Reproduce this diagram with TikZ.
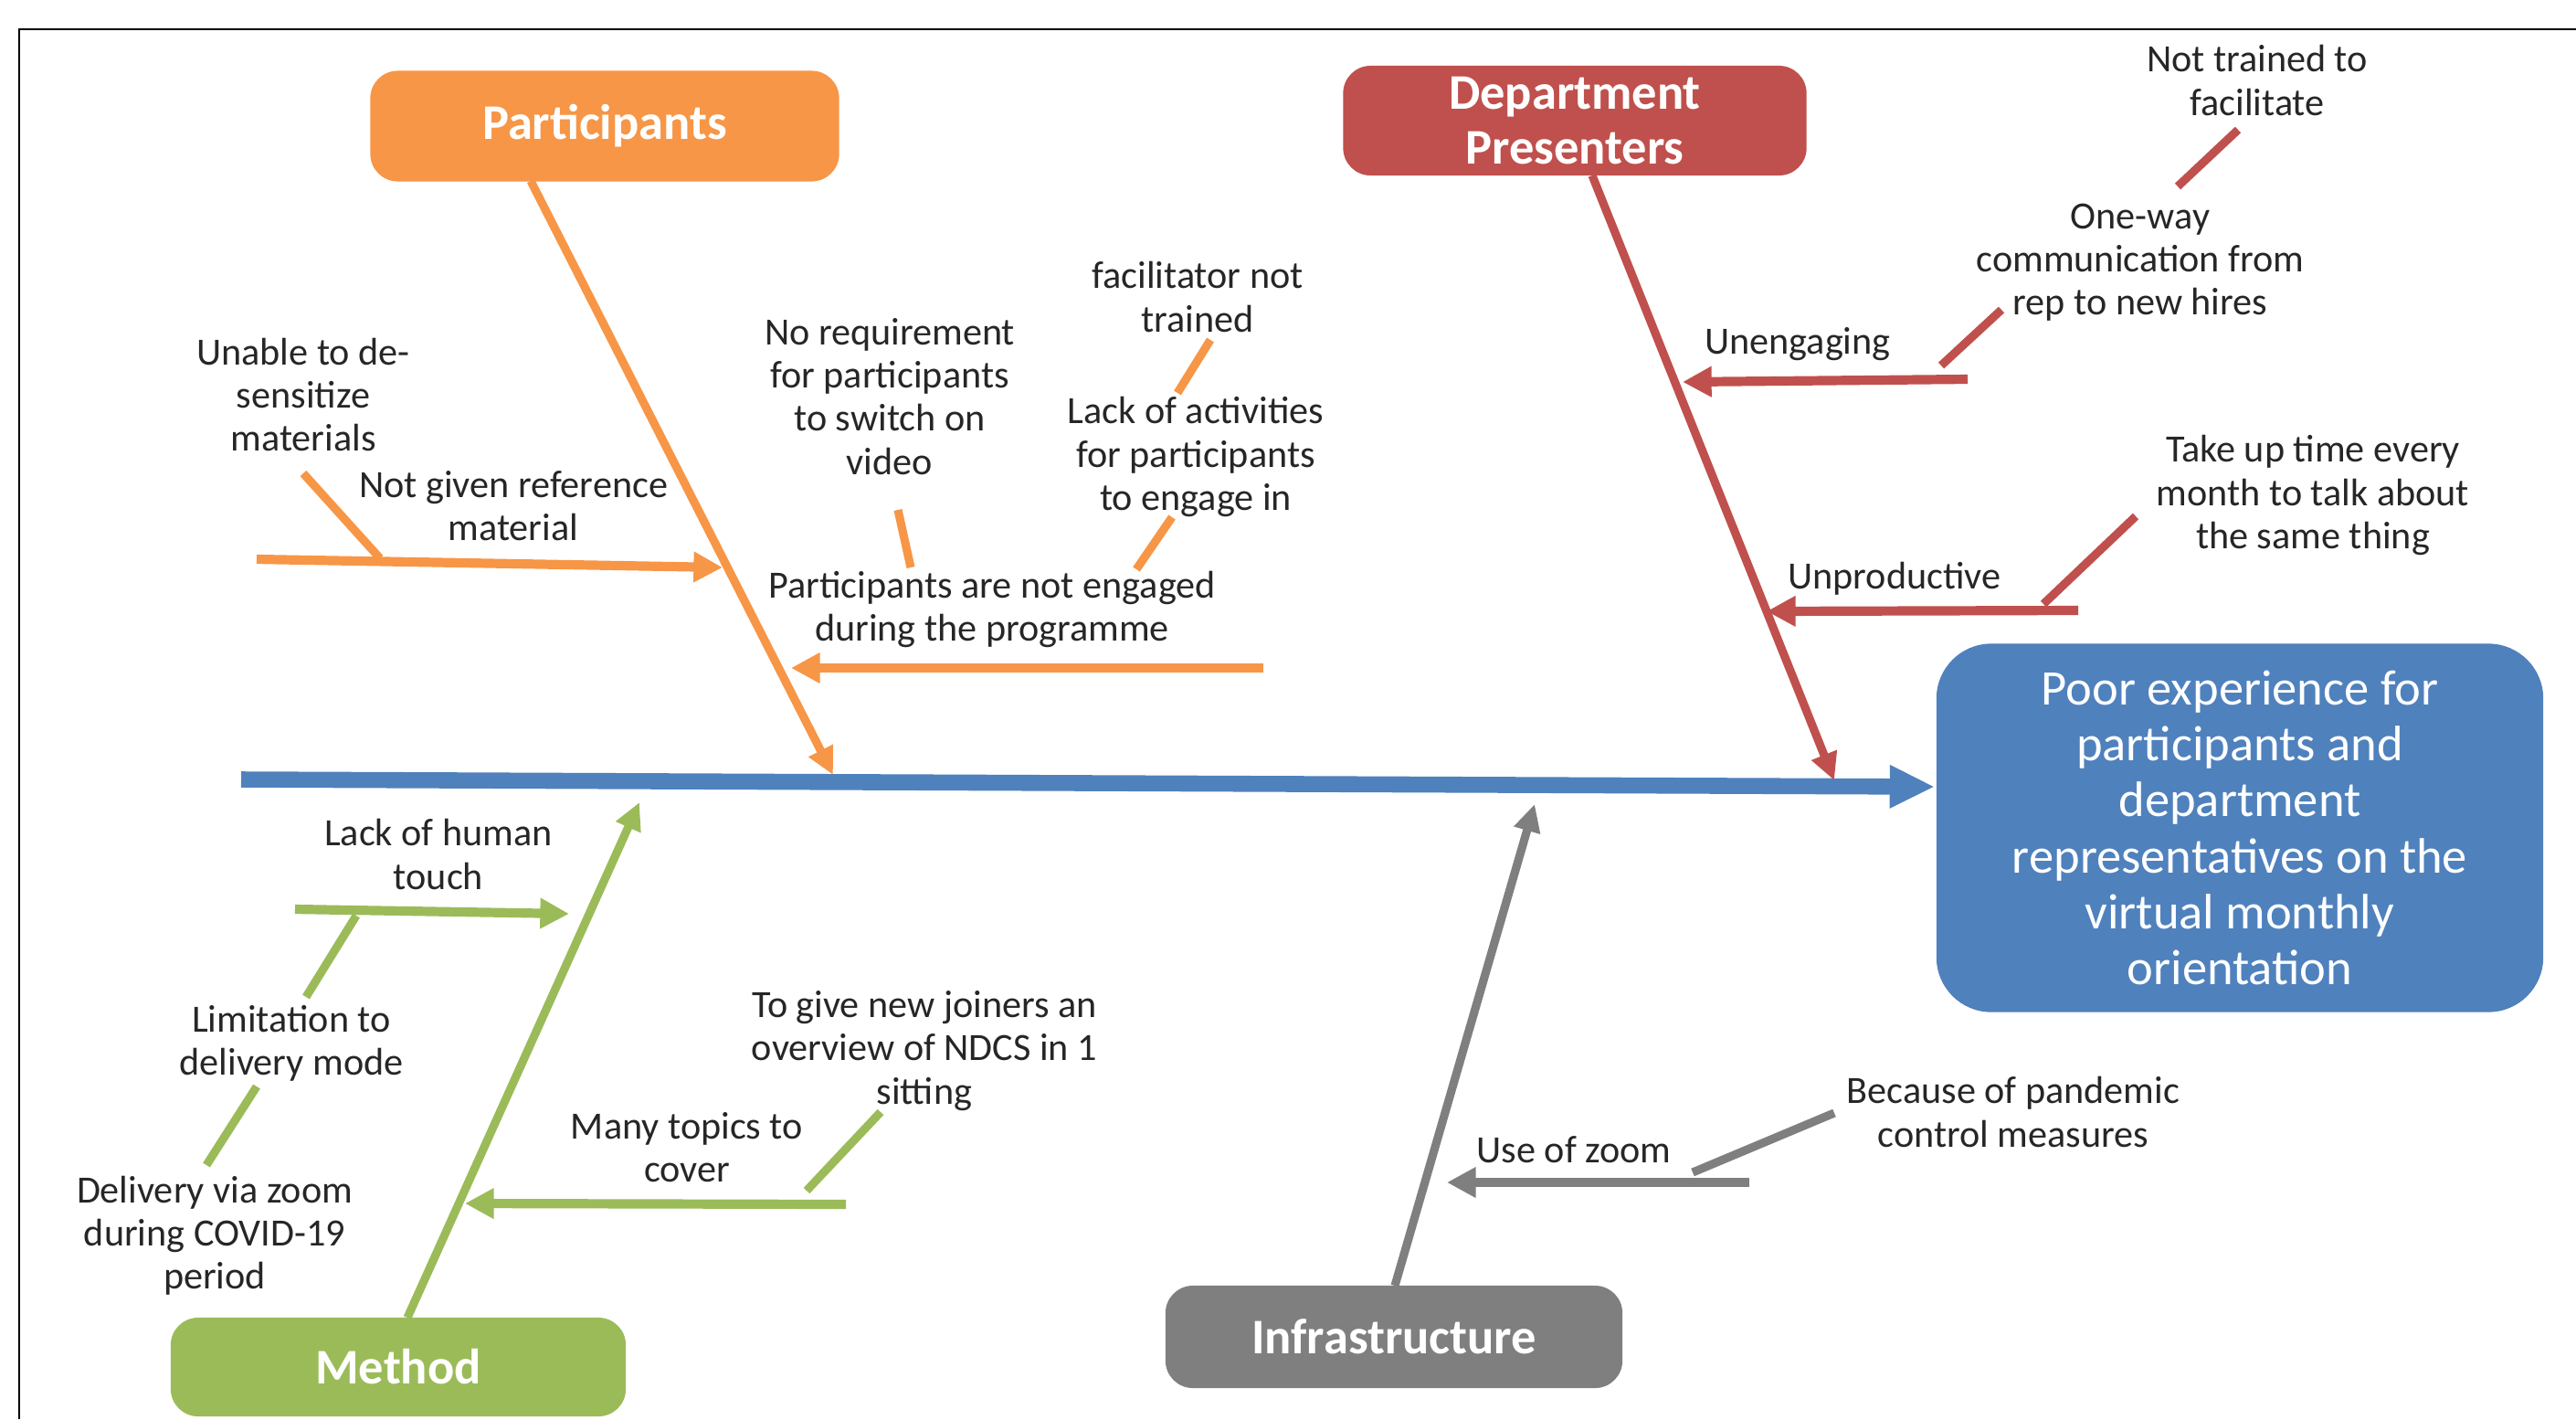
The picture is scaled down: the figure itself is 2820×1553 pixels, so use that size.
\documentclass[tikz,border=0pt]{standalone}
\usepackage{fontspec}
\setmainfont{Carlito}
\usetikzlibrary{arrows.meta}
\definecolor{partorange}{HTML}{F79646}
\definecolor{deptred}{HTML}{C0504D}
\definecolor{methgreen}{HTML}{9BBB59}
\definecolor{infragray}{HTML}{7F7F7F}
\definecolor{effblue}{HTML}{4F81BD}
\begin{document}
\begin{tikzpicture}[
  x=0.01cm, y=-0.01cm,
  cat_box/.style={rectangle, rounded corners=0.3cm, inner sep=0pt, text=white, align=center, font=\fontsize{15.5}{17}\selectfont\bfseries},
  effect_box/.style={rectangle, rounded corners=0.6cm, inner sep=0pt, minimum width=6.64cm, minimum height=4.03cm, fill=effblue, text=white, align=center, font=\fontsize{15.5}{17.4}\selectfont},
  cause_text/.style={inner sep=0pt, align=center, text=black!85, font=\fontsize{12}{13.4}\selectfont},
  spine_line/.style={line width=5pt, effblue, -{Triangle[length=14pt,width=12.5pt]}},
  bone/.style={line width=2.6pt, -{Triangle[length=8.5pt,width=8pt]}},
  sub_bone/.style={line width=2.9pt, -{Triangle[length=9pt,width=9pt]}},
  tick_line/.style={line width=2.6pt},
]
\useasboundingbox (0,0) rectangle (2820,1553);
\draw [line width=0.7pt] (21,1553) -- (21,32) -- (2820,32);

\draw (662,138) node (part) [cat_box, fill=partorange, minimum width=5.13cm, minimum height=1.21cm] {Participants};
\draw (1724,132) node (dept) [cat_box, fill=deptred, minimum width=5.07cm, minimum height=1.2cm] {Department\\Presenters};
\draw (436,1496) node (meth) [cat_box, fill=methgreen, minimum width=4.98cm, minimum height=1.08cm] {Method};
\draw (1526,1463) node (infra) [cat_box, fill=infragray, minimum width=5cm, minimum height=1.12cm] {Infrastructure};
\draw (2452,906) node (effect) [effect_box] {Poor experience for\\participants and\\department\\representatives on the\\virtual monthly\\orientation};

\draw (562,554) node (ref) [cause_text] {Not given reference\\material};
\draw (332,432) node (desens) [cause_text] {Unable to de-\\sensitize\\materials};
\draw (1086,667) node (noteng) [cause_text] {Participants are not engaged\\during the programme};
\draw (974,434) node (video) [cause_text] {No requirement\\for participants\\to switch on\\video};
\draw (1309,500) node (activ) [cause_text] {Lack of activities\\for participants\\to engage in};
\draw (1311,325) node (facil) [cause_text] {facilitator not\\trained};
\draw (1968,377) node (uneng) [cause_text] {Unengaging};
\draw (2343,287) node (oneway) [cause_text] {One-way\\communication from\\rep to new hires};
\draw (2471,88) node (nottr) [cause_text] {Not trained to\\facilitate};
\draw (2074,633) node (unprod) [cause_text] {Unproductive};
\draw (2532,542) node (takeup) [cause_text] {Take up time every\\month to talk about\\the same thing};
\draw (480,935) node (human) [cause_text] {Lack of human\\touch};
\draw (319,1142) node (limit) [cause_text] {Limitation to\\delivery mode};
\draw (235,1352) node (deliv) [cause_text] {Delivery via zoom\\during COVID-19\\period};
\draw (752,1256) node (topics) [cause_text] {Many topics to\\cover};
\draw (1012,1150) node (overview) [cause_text] {To give new joiners an\\overview of NDCS in 1\\sitting};
\draw (1723,1258) node (zoomuse) [cause_text] {Use of zoom};
\draw (2204,1217) node (pandemic) [cause_text] {Because of pandemic\\control measures};

\coordinate (sp_a) at (264,853);
\coordinate (sp_b) at (2118,861);
\coordinate (part_a) at (581,198);
\coordinate (part_b) at (912,848);
\coordinate (dept_a) at (1743,192);
\coordinate (dept_b) at (2008,854);
\coordinate (meth_a) at (446,1442);
\coordinate (meth_b) at (700,878);
\coordinate (infra_a) at (1527,1407);
\coordinate (infra_b) at (1680,880);

\coordinate (ref_a) at (281,612);
\coordinate (ref_b) at (791,621);
\coordinate (desens_a) at (332,518);
\coordinate (desens_b) at (416,611);
\coordinate (noteng_a) at (1383,731);
\coordinate (noteng_b) at (866,731);
\coordinate (video_a) at (983,558);
\coordinate (video_b) at (997,621);
\coordinate (activ_a) at (1283,566);
\coordinate (activ_b) at (1244,623);
\coordinate (facil_a) at (1325,372);
\coordinate (facil_b) at (1289,430);

\coordinate (uneng_a) at (2154,415);
\coordinate (uneng_b) at (1842,418);
\coordinate (oneway_a) at (2191,339);
\coordinate (oneway_b) at (2125,400);
\coordinate (nottr_a) at (2450,142);
\coordinate (nottr_b) at (2384,204);
\coordinate (unprod_a) at (2275,668);
\coordinate (unprod_b) at (1934,669);
\coordinate (takeup_a) at (2338,565);
\coordinate (takeup_b) at (2237,661);

\coordinate (human_a) at (323,995);
\coordinate (human_b) at (623,1000);
\coordinate (limit_a) at (335,1091);
\coordinate (limit_b) at (390,1002);
\coordinate (deliv_a) at (226,1275);
\coordinate (deliv_b) at (281,1189);
\coordinate (topics_a) at (926,1318);
\coordinate (topics_b) at (509,1317);
\coordinate (overview_a) at (964,1217);
\coordinate (overview_b) at (883,1303);

\coordinate (zoomuse_a) at (1915,1294);
\coordinate (zoomuse_b) at (1584,1294);
\coordinate (pandemic_a) at (2008,1218);
\coordinate (pandemic_b) at (1853,1283);

\draw [spine_line] (sp_a) -- (sp_b);
\draw [bone, partorange] (part_a) -- (part_b);
\draw [bone, deptred] (dept_a) -- (dept_b);
\draw [bone, methgreen] (meth_a) -- (meth_b);
\draw [bone, infragray] (infra_a) -- (infra_b);

\draw [sub_bone, partorange] (ref_a) -- (ref_b);
\draw [sub_bone, partorange] (noteng_a) -- (noteng_b);
\draw [tick_line, partorange] (desens_a) -- (desens_b);
\draw [tick_line, partorange] (video_a) -- (video_b);
\draw [tick_line, partorange] (activ_a) -- (activ_b);
\draw [tick_line, partorange] (facil_a) -- (facil_b);

\draw [sub_bone, deptred] (uneng_a) -- (uneng_b);
\draw [sub_bone, deptred] (unprod_a) -- (unprod_b);
\draw [tick_line, deptred] (oneway_a) -- (oneway_b);
\draw [tick_line, deptred] (nottr_a) -- (nottr_b);
\draw [tick_line, deptred] (takeup_a) -- (takeup_b);

\draw [sub_bone, methgreen] (human_a) -- (human_b);
\draw [sub_bone, methgreen] (topics_a) -- (topics_b);
\draw [tick_line, methgreen] (limit_a) -- (limit_b);
\draw [tick_line, methgreen] (deliv_a) -- (deliv_b);
\draw [tick_line, methgreen] (overview_a) -- (overview_b);

\draw [sub_bone, infragray] (zoomuse_a) -- (zoomuse_b);
\draw [tick_line, infragray] (pandemic_a) -- (pandemic_b);
\end{tikzpicture}
\end{document}
